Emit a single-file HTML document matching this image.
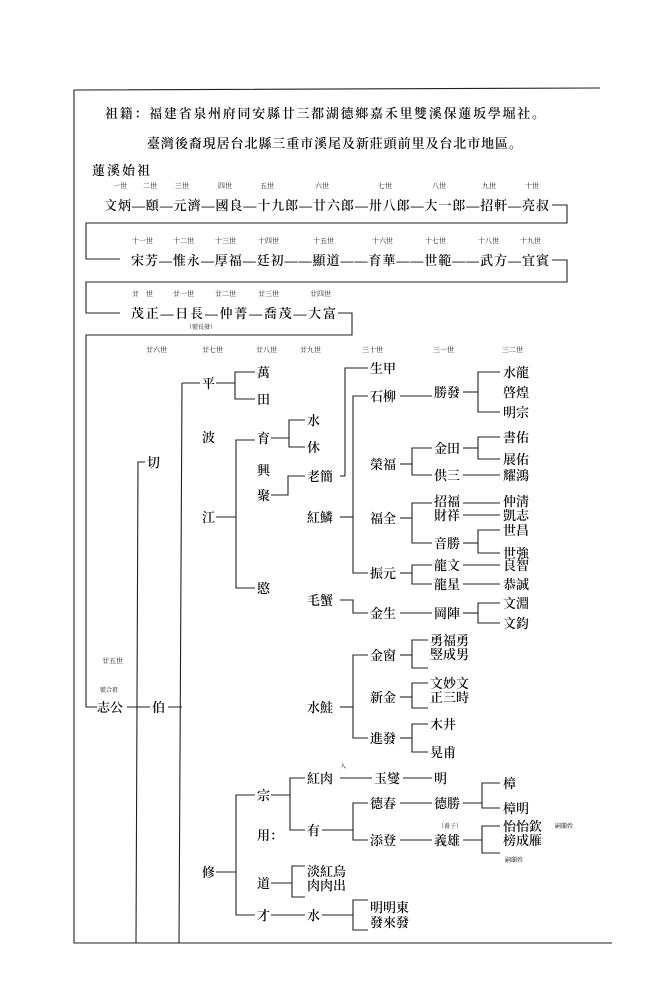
<!DOCTYPE html>
<html><head><meta charset="utf-8"><style>
html,body{margin:0;padding:0;background:#fff;}
svg{display:block}
text{font-family:"Liberation Serif","Noto Serif CJK SC","Noto Sans CJK TC",serif;fill:#111;}
.n{font-size:13px;font-weight:600;}
.g{font-size:7px;}
.s{font-size:6px;}
line,polyline,path{stroke:#222;stroke-width:1.1;fill:none;}
</style></head><body>
<svg width="670" height="1000" viewBox="0 0 670 1000" xmlns="http://www.w3.org/2000/svg">
<rect width="670" height="1000" fill="#fff"/>
<!-- frame -->
<polyline points="600,88 74,90 74,943 612,943"/>
<!-- header -->
<text class="n" x="105" y="118" textLength="440" font-weight="bold">祖籍：福建省泉州府同安縣廿三都湖德鄉嘉禾里雙溪保蓮坂學堀社。</text>
<text class="n" x="147" y="148" textLength="375" font-weight="bold">臺灣後裔現居台北縣三重市溪尾及新莊頭前里及台北市地區。</text>
<text class="n" x="92" y="175" textLength="58">蓮溪始祖</text>
<!-- row1 -->
<g class="g">
<text x="113" y="188">一世</text><text x="143" y="188">二世</text><text x="175" y="188">三世</text><text x="218" y="188">四世</text><text x="260" y="188">五世</text><text x="315" y="188">六世</text><text x="378" y="188">七世</text><text x="432" y="188">八世</text><text x="482" y="188">九世</text><text x="525" y="188">十世</text>
</g>
<text class="n" x="104" y="210" textLength="445">文炳—頤—元濟—國良—十九郎—廿六郎—卅八郎—大一郎—招軒—亮叔</text>
<polyline points="552,205 567,205 567,223 86,223 86,259 120,259"/>
<!-- row2 -->
<g class="g">
<text x="132" y="243">十一世</text><text x="173" y="243">十二世</text><text x="215" y="243">十三世</text><text x="258" y="243">十四世</text><text x="313" y="243">十五世</text><text x="372" y="243">十六世</text><text x="425" y="243">十七世</text><text x="478" y="243">十八世</text><text x="520" y="243">十九世</text>
</g>
<text class="n" x="131" y="265" textLength="418">宋芳—惟永—厚福—廷初——顯道——育華——世範——武方—宜賓</text>
<polyline points="552,260 567,260 567,282 86,282 86,313 120,313"/>
<!-- row3 -->
<g class="g">
<text x="132" y="296">廿　世</text><text x="173" y="296">廿一世</text><text x="215" y="296">廿二世</text><text x="258" y="296">廿三世</text><text x="310" y="296">廿四世</text>
</g>
<text class="n" x="131" y="318" textLength="205">茂正—日長—仲菁—喬茂—大富</text>
<text class="s" x="186" y="329">（號長發）</text>
<polyline points="338,313 352,313 352,335 86,335 86,707 97,707"/>
<!-- gen labels lower -->
<g class="g">
<text x="146" y="352">廿六世</text><text x="202" y="352">廿七世</text><text x="256" y="352">廿八世</text><text x="300" y="352">廿九世</text><text x="362" y="352">三十世</text><text x="433" y="352">三一世</text><text x="502" y="352">三二世</text>
<text x="102" y="663">廿五世</text>
</g>
<text class="s" x="100" y="692">號合祖</text>
<!-- 志公 / 伯 / 切 -->
<text class="n" x="97" y="712">志公</text>
<line x1="127" y1="707" x2="182" y2="707"/>
<rect x="150" y="699" width="18" height="16" fill="#fff" stroke="none"/>
<text class="n" x="152" y="712">伯</text>
<polyline points="145,462 138,462 136,943"/>
<text class="n" x="147" y="467">切</text>
<line x1="182" y1="383" x2="179" y2="943"/>
<!-- 伯 children -->
<line x1="182" y1="383" x2="200" y2="383"/>
<text class="n" x="202" y="388">平</text>
<text class="n" x="202" y="442">波</text>
<line x1="216" y1="517" x2="236" y2="517"/>
<text class="n" x="202" y="522">江</text>
<line x1="216" y1="872" x2="236" y2="872"/>
<text class="n" x="202" y="877">修</text>
<!-- 平 -->
<line x1="216" y1="383" x2="235" y2="383"/>
<polyline points="255,372 235,372 235,399 255,399"/>
<text class="n" x="257" y="377">萬</text><text class="n" x="257" y="404">田</text>
<!-- 江 -->
<polyline points="255,440 236,440 236,588 255,588"/>
<text class="n" x="257" y="443">育</text><text class="n" x="257" y="475">興</text><text class="n" x="257" y="500">聚</text><text class="n" x="257" y="593">愍</text>
<line x1="271" y1="438" x2="289" y2="438"/>
<polyline points="305,420 289,420 289,447 305,447"/>
<text class="n" x="307" y="425">水</text><text class="n" x="307" y="452">休</text>
<polyline points="271,495 288,495 288,476 305,476"/>
<text class="n" x="307" y="481">老簡</text>
<line x1="340" y1="476" x2="345" y2="476"/>
<polyline points="345,476 345,368 368,368"/>
<text class="n" x="370" y="373">生甲</text>
<text class="n" x="307" y="522">紅鱗</text>
<line x1="340" y1="517" x2="353" y2="517"/>
<polyline points="368,396 353,396 353,573 368,573"/>
<text class="n" x="307" y="605">毛蟹</text>
<polyline points="340,600 353,600 353,613 368,613"/>
<!-- 紅鱗 children -->
<text class="n" x="370" y="401">石柳</text>
<line x1="400" y1="396" x2="432" y2="396"/>
<text class="n" x="434" y="397">勝發</text>
<line x1="463" y1="392" x2="478" y2="392"/>
<polyline points="500,372 478,372 478,412 500,412"/>
<text class="n" x="503" y="377">水龍</text><text class="n" x="503" y="397">啓煌</text><text class="n" x="503" y="417">明宗</text>
<text class="n" x="370" y="469">榮福</text>
<line x1="400" y1="464" x2="412" y2="464"/>
<polyline points="432,448 412,448 412,475 432,475"/>
<text class="n" x="434" y="453">金田</text><text class="n" x="434" y="480">供三</text>
<line x1="463" y1="448" x2="478" y2="448"/>
<polyline points="500,437 478,437 478,459 500,459"/>
<text class="n" x="503" y="442">書佑</text><text class="n" x="503" y="464">展佑</text>
<line x1="463" y1="475" x2="500" y2="475"/>
<text class="n" x="503" y="480">耀鴻</text>
<text class="n" x="370" y="523">福全</text>
<line x1="400" y1="518" x2="412" y2="518"/>
<polyline points="432,503 412,503 412,543 432,543"/>
<text class="n" x="434" y="506">招福</text><text class="n" x="434" y="520">財祥</text>
<line x1="463" y1="503" x2="500" y2="503"/><line x1="463" y1="515" x2="500" y2="515"/>
<text class="n" x="503" y="506">仲淸</text><text class="n" x="503" y="520">凱志</text>
<text class="n" x="434" y="548">音勝</text>
<line x1="463" y1="543" x2="478" y2="543"/>
<polyline points="500,530 478,530 478,553 500,553"/>
<text class="n" x="503" y="535">世昌</text><text class="n" x="503" y="558">世強</text>
<text class="n" x="370" y="578">振元</text>
<line x1="400" y1="573" x2="412" y2="573"/>
<polyline points="432,565 412,565 412,584 432,584"/>
<text class="n" x="434" y="570">龍文</text><text class="n" x="434" y="589">龍星</text>
<line x1="463" y1="565" x2="500" y2="565"/><line x1="463" y1="584" x2="500" y2="584"/>
<text class="n" x="503" y="570">良智</text><text class="n" x="503" y="589">恭誠</text>
<text class="n" x="370" y="618">金生</text>
<line x1="400" y1="613" x2="432" y2="613"/>
<text class="n" x="434" y="618">岡陣</text>
<line x1="463" y1="613" x2="478" y2="613"/>
<polyline points="500,603 478,603 478,623 500,623"/>
<text class="n" x="503" y="608">文淵</text><text class="n" x="503" y="628">文鈞</text>
<!-- 水鮭 -->
<text class="n" x="307" y="712">水鮭</text>
<line x1="340" y1="707" x2="353" y2="707"/>
<polyline points="368,655 353,655 353,738 368,738"/>
<text class="n" x="370" y="660">金窗</text><text class="n" x="370" y="702">新金</text><text class="n" x="370" y="743">進發</text>
<line x1="400" y1="655" x2="412" y2="655"/>
<polyline points="428,640 412,640 412,668 428,668"/>
<text class="n" x="430" y="645">勇福勇</text><text class="n" x="430" y="659">竪成男</text>
<line x1="400" y1="697" x2="412" y2="697"/>
<polyline points="428,683 412,683 412,708 428,708"/>
<text class="n" x="430" y="688">文妙文</text><text class="n" x="430" y="702">正三時</text>
<line x1="400" y1="738" x2="412" y2="738"/>
<polyline points="428,724 412,724 412,752 428,752"/>
<text class="n" x="430" y="729">木井</text><text class="n" x="430" y="757">晃甫</text>
<!-- 修 -->
<polyline points="255,795 236,795 236,915 255,915"/>
<text class="n" x="257" y="800">宗</text><text class="n" x="257" y="840">用：</text><text class="n" x="257" y="888">道</text><text class="n" x="257" y="920">才</text>
<line x1="271" y1="795" x2="290" y2="795"/>
<polyline points="305,778 290,778 290,830 305,830"/>
<text class="n" x="307" y="783">紅肉</text><text class="s" x="340" y="768">入</text>
<text class="n" x="307" y="835">有</text>
<line x1="340" y1="778" x2="372" y2="778"/>
<text class="n" x="374" y="783">玉燮</text>
<line x1="403" y1="778" x2="432" y2="778"/>
<text class="n" x="434" y="783">明</text>
<line x1="322" y1="830" x2="353" y2="830"/>
<polyline points="368,803 353,803 353,840 368,840"/>
<text class="n" x="370" y="808">德春</text><text class="n" x="370" y="845">添登</text>
<line x1="400" y1="803" x2="432" y2="803"/>
<text class="n" x="434" y="808">德勝</text>
<line x1="463" y1="803" x2="482" y2="803"/>
<polyline points="500,783 482,783 482,808 500,808"/>
<text class="n" x="503" y="788">樟</text><text class="n" x="503" y="813">樟明</text>
<line x1="400" y1="840" x2="432" y2="840"/>
<text class="s" x="438" y="828">（養子）</text>
<text class="n" x="434" y="845">義雄</text>
<line x1="463" y1="840" x2="482" y2="840"/>
<polyline points="500,826 482,826 482,853 500,853"/>
<text class="n" x="503" y="831">怡怡欽</text><text class="n" x="503" y="845">榜成雁</text>
<text class="s" x="555" y="828">嗣蘭姓</text><text class="s" x="505" y="862">嗣蘭姓</text>
<line x1="271" y1="883" x2="292" y2="883"/>
<polyline points="305,866 292,866 292,897 305,897"/>
<text class="n" x="307" y="876">淡紅烏</text><text class="n" x="307" y="890">肉肉出</text>
<line x1="271" y1="915" x2="305" y2="915"/>
<text class="n" x="307" y="920">水</text>
<line x1="322" y1="915" x2="353" y2="915"/>
<polyline points="368,900 353,900 353,930 368,930"/>
<text class="n" x="370" y="912">明明東</text><text class="n" x="370" y="927">發來發</text>
</svg>
</body></html>
